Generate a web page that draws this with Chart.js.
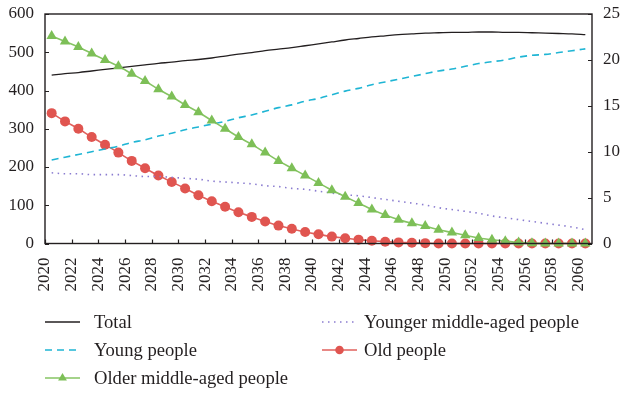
<!DOCTYPE html>
<html>
<head>
<meta charset="utf-8">
<script src="https://cdn.jsdelivr.net/npm/chart.js@4.4.1/dist/chart.umd.min.js"></script>
<style>
  html, body { margin: 0; padding: 0; background: #fff; }
  #wrap { width: 622px; height: 394px; }
</style>
</head>
<body>
<div id="wrap"><canvas id="c" width="622" height="394"></canvas></div>
<script>
// Years of the projection (one point per year, drawn in the middle of its year slot)
const years = [2020,2021,2022,2023,2024,2025,2026,2027,2028,2029,2030,2031,2032,2033,2034,2035,2036,2037,2038,2039,2040,
               2041,2042,2043,2044,2045,2046,2047,2048,2049,2050,2051,2052,2053,2054,2055,2056,2057,2058,2059,2060];

// Total (left axis)
const total = [440,444,447,451,455,459,463,467,471,474,478,481,485,490,495,499,504,508,512,517,522,
               527,532,536,540,543,546,548,550,551,552,552,553,553,552,552,551,550,549,548,546];

// Age groups (right axis)
const young = [9.1,9.4,9.7,10.0,10.3,10.6,11.0,11.3,11.7,12.0,12.4,12.7,13.0,13.3,13.7,14.0,14.4,14.8,15.1,15.5,15.8,
               16.2,16.6,16.9,17.3,17.6,17.9,18.2,18.5,18.8,19.0,19.3,19.6,19.8,20.0,20.3,20.5,20.6,20.8,21.0,21.2];
const youngerMid = [7.7,7.6,7.6,7.5,7.5,7.5,7.4,7.3,7.3,7.2,7.1,7.0,6.8,6.7,6.6,6.5,6.3,6.2,6.0,5.9,5.7,
                    5.5,5.3,5.2,5.0,4.8,4.6,4.4,4.2,3.9,3.7,3.5,3.3,3.0,2.8,2.6,2.4,2.2,2.0,1.8,1.5];
const olderMid = [22.6,22.0,21.4,20.7,20.0,19.3,18.5,17.7,16.8,16.0,15.1,14.3,13.4,12.5,11.6,10.8,9.9,9.0,8.2,7.4,6.6,
                  5.8,5.1,4.4,3.7,3.1,2.6,2.2,1.9,1.5,1.2,0.9,0.6,0.4,0.25,0.12,0.04,0,0,0,0];
const old = [14.2,13.3,12.5,11.6,10.75,9.9,9.0,8.2,7.4,6.7,6.0,5.25,4.6,4.0,3.4,2.9,2.4,1.95,1.6,1.25,1.0,
             0.75,0.58,0.42,0.3,0.2,0.12,0.08,0.04,0,0,0,0,0,0,0,0,0,0,0,0];

// Axis tick settings
const leftTicks = { min: 0, max: 600, step: 100 };
const rightTicks = { min: 0, max: 25, step: 5 };
const yearTicks = { min: 2020, max: 2061, step: 2 };

const FONT = '"Liberation Serif", "Times New Roman", serif';
const INK = '#231f20';

// each year occupies [year, year+1); the point sits in the middle
const series = vals => years.map((y, i) => ({ x: y + 0.5, y: vals[i] }));

// Legend in two columns under the chart
const legendSlots = [
  { col: 0, row: 0 }, // Total
  { col: 0, row: 1 }, // Young people
  { col: 1, row: 0 }, // Younger middle-aged people
  { col: 1, row: 1 }, // Old people
  { col: 0, row: 2 }  // Older middle-aged people
];
const legendPlugin = {
  id: 'twoColLegend',
  afterDraw(chart) {
    const ctx = chart.ctx;
    const sampleX = [45, 322], textX = [94, 364], rowY = [322, 350, 378], sampleW = 35;
    ctx.save();
    ctx.font = '18.6px ' + FONT;
    ctx.textBaseline = 'middle';
    chart.data.datasets.forEach((ds, i) => {
      const slot = legendSlots[i];
      const x0 = sampleX[slot.col], y = rowY[slot.row];
      ctx.save();
      ctx.strokeStyle = ds.borderColor;
      ctx.lineWidth = ds.borderWidth;
      ctx.setLineDash(ds.borderDash || []);
      ctx.beginPath();
      ctx.moveTo(x0, y); ctx.lineTo(x0 + sampleW, y);
      ctx.stroke();
      ctx.setLineDash([]);
      if (ds.pointRadius > 0) {
        ctx.fillStyle = ds.pointBackgroundColor;
        ctx.strokeStyle = ds.pointBorderColor;
        Chart.helpers.drawPoint(ctx, { pointStyle: ds.pointStyle, radius: ds.pointRadius * 0.85, rotation: 0, borderWidth: 0 }, x0 + sampleW / 2, y);
      }
      ctx.restore();
      ctx.fillStyle = INK;
      ctx.fillText(ds.label, textX[slot.col], y + 1);
    });
    ctx.restore();
  }
};

// Frame around the plot with tick marks pointing inward
const framePlugin = {
  id: 'frame',
  afterDatasetsDraw(chart) {
    const { ctx, chartArea: a, scales } = chart;
    ctx.save();
    ctx.strokeStyle = INK;
    ctx.lineWidth = 1.4;
    ctx.strokeRect(a.left, a.top, a.right - a.left, a.bottom - a.top);
    ctx.lineWidth = 1.2;
    ctx.beginPath();
    scales.x.ticks.forEach(t => {
      const px = Math.round(scales.x.getPixelForValue(t.value)) + 0.5;
      ctx.moveTo(px, a.bottom); ctx.lineTo(px, a.bottom - 4);
    });
    scales.y.ticks.forEach(t => {
      const py = Math.round(scales.y.getPixelForValue(t.value)) + 0.5;
      ctx.moveTo(a.left, py); ctx.lineTo(a.left + 4, py);
    });
    scales.y1.ticks.forEach(t => {
      const py = Math.round(scales.y1.getPixelForValue(t.value)) + 0.5;
      ctx.moveTo(a.right, py); ctx.lineTo(a.right - 4, py);
    });
    ctx.stroke();
    ctx.restore();
  }
};

const lineDefaults = { fill: false, cubicInterpolationMode: 'monotone', clip: false };
const noGrid = { display: false, drawTicks: false };
const tickFont = { family: FONT, size: 17 };

new Chart(document.getElementById('c'), {
  type: 'line',
  data: {
    datasets: [
      { ...lineDefaults, label: 'Total', data: series(total), yAxisID: 'y',
        borderColor: '#231f20', borderWidth: 1.3, pointRadius: 0, order: 4 },
      { ...lineDefaults, label: 'Young people', data: series(young), yAxisID: 'y1',
        borderColor: '#1fb5d4', borderWidth: 1.6, borderDash: [7, 5], pointRadius: 0, order: 2 },
      { ...lineDefaults, label: 'Younger middle-aged people', data: series(youngerMid), yAxisID: 'y1',
        borderColor: '#8a7cd0', borderWidth: 1.6, borderDash: [1.5, 4.5], pointRadius: 0, order: 3 },
      { ...lineDefaults, label: 'Old people', data: series(old), yAxisID: 'y1',
        borderColor: '#e0605c', borderWidth: 1.6, pointStyle: 'circle', pointRadius: 5,
        pointBackgroundColor: '#e05550', pointBorderColor: '#e05550', pointBorderWidth: 0, order: 5 },
      { ...lineDefaults, label: 'Older middle-aged people', data: series(olderMid), yAxisID: 'y1',
        borderColor: '#86c463', borderWidth: 1.6, pointStyle: 'triangle', pointRadius: 6,
        pointBackgroundColor: '#7dbf57', pointBorderColor: '#7dbf57', pointBorderWidth: 0, order: 1 }
    ]
  },
  options: {
    responsive: false,
    animation: false,
    events: [],
    layout: { padding: { top: 14, left: 0, right: 0, bottom: 0 } },
    plugins: { legend: { display: false }, tooltip: { enabled: false } },
    scales: {
      x: {
        type: 'linear', min: yearTicks.min, max: yearTicks.max,
        grid: noGrid, border: { display: false },
        ticks: {
          stepSize: yearTicks.step, includeBounds: false, autoSkip: false,
          minRotation: 90, maxRotation: 90, padding: 14,
          color: INK, font: tickFont,
          callback: v => String(v)
        },
        afterFit: s => { s.height = 150.5; s.paddingLeft = 0; s.paddingRight = 0; }
      },
      y: {
        position: 'left', min: leftTicks.min, max: leftTicks.max,
        grid: noGrid, border: { display: false },
        ticks: { stepSize: leftTicks.step, padding: 11, color: INK, font: tickFont },
        afterFit: s => { s.width = 45; s.paddingTop = 0; s.paddingBottom = 0; }
      },
      y1: {
        position: 'right', min: rightTicks.min, max: rightTicks.max,
        grid: noGrid, border: { display: false },
        ticks: { stepSize: rightTicks.step, padding: 11, color: INK, font: tickFont },
        afterFit: s => { s.width = 30; s.paddingTop = 0; s.paddingBottom = 0; }
      }
    }
  },
  plugins: [framePlugin, legendPlugin]
});
</script>
</body>
</html>
